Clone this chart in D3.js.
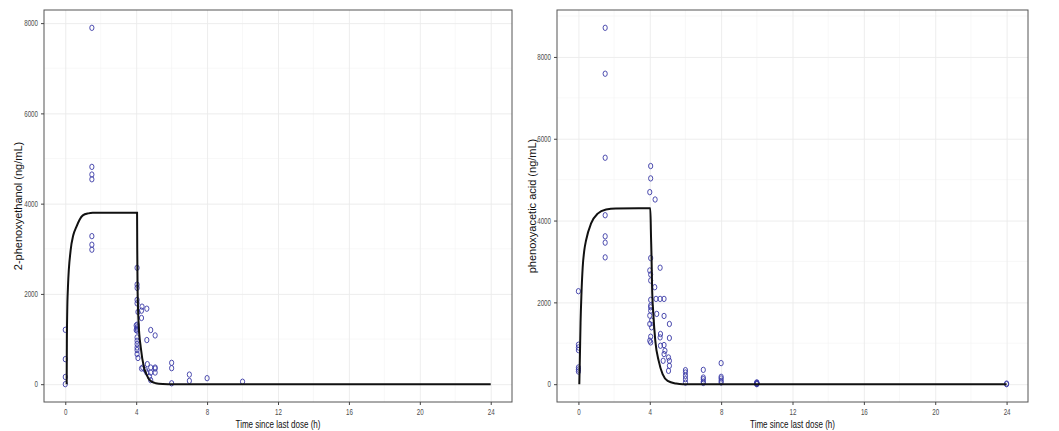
<!DOCTYPE html>
<html><head><meta charset="utf-8">
<script src="https://cdn.jsdelivr.net/npm/d3@7"></script>
<style>body{margin:0;background:#fff}svg{display:block}</style>
</head><body>
<svg id="c" width="1059" height="431"></svg>
<script>
// ---------- data ----------
const xTicks = [0, 4, 8, 12, 16, 20, 24];
const yTicks = [0, 2000, 4000, 6000, 8000];
const xTitle = "Time since last dose (h)";

// 2-phenoxyethanol observations
const pheObsTime = [0,0,0,0, 1.5,1.5,1.5,1.5,1.5,1.5,1.5,
  4.05,4.05,4.05,4.05,4.05,4.05,4.05,4.05,4.05,4.05,4.05,4.05,4.05,4.05,4.05,4.0,4.0,4.1,4.1,
  4.33,4.3,4.3,4.37,4.3,
  4.6,4.6,4.63,4.52,4.6,
  4.75,4.82,4.82,4.82,4.82,
  5.07,5.07,5.07,5.07,
  6,6,6, 7,7, 8, 10];
const pheObsConc = [0,160,555,1205, 2980,3090,3280,4540,4645,4815,7896,
  2578,2207,2133,1867,1791,1318,1259,1229,1185,1036,962,889,813,756,667,1300,1200,1600,580,
  1718,1629,1467,369,347,
  1673,978,444,313,258,
  169,1200,369,258,89,
  1080,369,258,347,
  473,355,20, 213,73, 133, 55];
// 2-phenoxyethanol model curve
const pheFitTime = [0.08,0.09,0.11,0.15,0.3,0.45,0.62,0.8,0.99,1.3,1.55,2.0,4.05,4.06,4.08,4.14,4.26,4.44,4.6,4.72,4.9,5.1,5.5,5.8,24];
const pheFitConc = [0,900,1600,2140,2960,3300,3480,3640,3740,3785,3798,3800,3800,3000,2100,1330,810,370,200,110,50,22,3,0,0];

// phenoxyacetic acid observations
const paaObsTime = [0,0,0,0,0,0,0, 1.5,1.5,1.5,1.5,1.5,1.5,1.5,
  4.05,4.05,4.0,4.05,4.0,4.05,4.05,4.05,4.05,4.05,4.05,4.0,4.0,4.05,4.0,4.05,4.1,4.1,
  4.3,4.28,4.58,4.35,4.58,4.8,4.39,4.8,5.1,5.1,4.6,4.58,4.6,4.8,4.85,4.8,5.05,5.1,5.1,5.05,4.75,
  6,6,6,6,6, 7,7,7,7,7, 8,8,8,8,8, 10,10,10,10,10,10, 24,24];
const paaObsConc = [2273,964,898,834,408,358,310, 3100,3460,3615,4130,5536,7590,8712,
  5333,5031,4695,3083,2780,2682,2535,2061,1922,1880,1799,1676,1472,1161,1063,1021,1390,1553,
  4515,2371,2847,2085,2085,2085,1718,1668,1472,1129,1227,1144,940,957,817,736,653,572,449,326,572,
  343,285,204,123,39, 350,163,122,64,30, 515,180,139,82,41, 0,15,30,45,20,10, 0,15];
// phenoxyacetic acid model curve
const paaFitTime = [0.05,0.08,0.12,0.17,0.24,0.33,0.43,0.71,1.08,1.55,2.1,4.03,4.07,4.1,4.13,4.2,4.31,4.5,4.72,5.0,5.48,5.85,24];
const paaFitConc = [0,600,1500,2200,2860,3270,3520,3930,4170,4270,4295,4300,3600,3100,2370,1720,1060,570,245,80,15,0,0];

// ---------- drawing ----------
const svg = d3.select("#c");
const SQ = 0.73; // horizontal squeeze of the source image
const FONT = "'Liberation Sans', Arial, sans-serif";
const fmt = d3.format("d");

function squeeze(sel) {
  sel.each(function () {
    const w = this.getComputedTextLength();
    this.setAttribute("textLength", w * SQ);
    this.setAttribute("lengthAdjust", "spacingAndGlyphs");
  });
}

const panels = [
  {left: 44, right: 512, top: 10, bottom: 402, yMax: 7896,
   obsT: pheObsTime, obsC: pheObsConc, fitT: pheFitTime, fitC: pheFitConc,
   yTitle: "2-phenoxyethanol (ng/mL)", yTitleX: 18},
  {left: 557, right: 1028, top: 10, bottom: 402, yMax: 8712,
   obsT: paaObsTime, obsC: paaObsConc, fitT: paaFitTime, fitC: paaFitConc,
   yTitle: "phenoxyacetic acid (ng/mL)", yTitleX: 532}
];

panels.forEach(p => {
  const x = d3.scaleLinear().domain([-1.2, 25.2]).range([p.left, p.right]);
  const yr = p.yMax * 0.05;
  const y = d3.scaleLinear().domain([-yr, p.yMax + yr]).range([p.bottom, p.top]);
  const g = svg.append("g");
  const yT = yTicks.filter(v => v <= p.yMax + yr);

  // minor grid
  const xMinor = [2, 6, 10, 14, 18, 22];
  const yMinor = d3.range(1000, p.yMax + yr, 2000);
  g.selectAll(".xm").data(xMinor).join("line")
    .attr("x1", d => x(d)).attr("x2", d => x(d)).attr("y1", p.top).attr("y2", p.bottom)
    .attr("stroke", "#f4f4f4").attr("stroke-width", 0.6);
  g.selectAll(".ym").data(yMinor).join("line")
    .attr("y1", d => y(d)).attr("y2", d => y(d)).attr("x1", p.left).attr("x2", p.right)
    .attr("stroke", "#f4f4f4").attr("stroke-width", 0.6);
  // major grid
  g.append("g").attr("transform", `translate(0,${p.bottom})`)
    .call(d3.axisBottom(x).tickValues(xTicks).tickSize(-(p.bottom - p.top)).tickFormat(""))
    .call(a => a.select(".domain").remove())
    .call(a => a.selectAll("line").attr("stroke", "#ebebeb").attr("stroke-width", 0.9));
  g.append("g").attr("transform", `translate(${p.left},0)`)
    .call(d3.axisLeft(y).tickValues(yT).tickSize(-(p.right - p.left)).tickFormat(""))
    .call(a => a.select(".domain").remove())
    .call(a => a.selectAll("line").attr("stroke", "#ebebeb").attr("stroke-width", 0.9));

  // observations
  const obs = p.obsT.map((t, i) => ({t, c: p.obsC[i]}));
  g.selectAll(".pt").data(obs).join("ellipse")
    .attr("cx", d => x(d.t)).attr("cy", d => y(d.c))
    .attr("rx", 2.1).attr("ry", 2.7)
    .attr("fill", "none").attr("stroke", "#3a3aa6").attr("stroke-width", 0.9);

  // model line
  const fit = p.fitT.map((t, i) => ({t, c: p.fitC[i]}));
  g.append("path").datum(fit)
    .attr("d", d3.line().x(d => x(d.t)).y(d => y(d.c)).curve(d3.curveMonotoneX))
    .attr("fill", "none").attr("stroke", "#111").attr("stroke-width", 2);

  // panel border
  g.append("rect").attr("x", p.left).attr("y", p.top)
    .attr("width", p.right - p.left).attr("height", p.bottom - p.top)
    .attr("fill", "none").attr("stroke", "#555").attr("stroke-width", 1);

  // axes ticks + labels
  const ax = g.append("g").attr("transform", `translate(0,${p.bottom})`)
    .call(d3.axisBottom(x).tickValues(xTicks).tickFormat(fmt).tickSize(3).tickPadding(4));
  ax.select(".domain").remove();
  ax.selectAll("line").attr("stroke", "#444");
  ax.selectAll("text").attr("fill", "#4d4d4d").attr("font-size", 8.5).attr("font-family", FONT).call(squeeze);

  const ay = g.append("g").attr("transform", `translate(${p.left},0)`)
    .call(d3.axisLeft(y).tickValues(yT).tickFormat(fmt).tickSize(3).tickPadding(3));
  ay.select(".domain").remove();
  ay.selectAll("line").attr("stroke", "#444");
  ay.selectAll("text").attr("fill", "#4d4d4d").attr("font-size", 8.5).attr("font-family", FONT).call(squeeze);

  // titles
  g.append("text").text(xTitle)
    .attr("x", (p.left + p.right) / 2).attr("y", 428)
    .attr("text-anchor", "middle").attr("font-size", 11).attr("font-family", FONT).attr("fill", "#111")
    .call(squeeze);
  g.append("text").text(p.yTitle)
    .attr("transform", `translate(${p.yTitleX},${(p.top + p.bottom) / 2}) rotate(-90)`)
    .attr("dy", "0.35em")
    .attr("text-anchor", "middle").attr("font-size", 11).attr("font-family", FONT).attr("fill", "#111");
});
</script>
</body></html>
